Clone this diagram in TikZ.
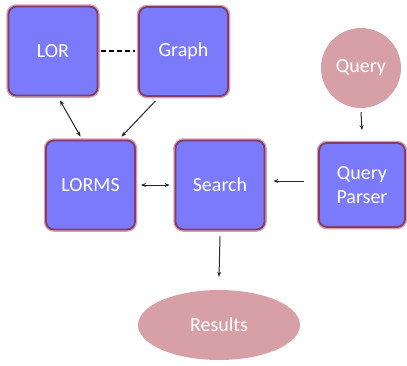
\documentclass[tikz,border=0pt]{standalone}
\usepackage{fontspec}
\setmainfont{Carlito}
\usetikzlibrary{arrows.meta,shapes.geometric}
\definecolor{boxfill}{RGB}{122,122,250}
\definecolor{boxedge}{RGB}{128,62,104}
\definecolor{glow}{RGB}{214,160,180}
\definecolor{blobfill}{RGB}{214,160,166}
\tikzset{
  box/.style={rectangle, rounded corners=8pt, fill=boxfill, draw=boxedge, line width=1.8pt,
    minimum width=89pt, minimum height=89pt, text=white, font=\fontsize{20}{24}\selectfont,
    align=center,
    preaction={draw=glow, line width=4.5pt}},
  blob/.style={ellipse, fill=blobfill, draw=none, text=white, font=\fontsize{20}{24}\selectfont, inner sep=0pt},
  conn/.style={line width=1pt, draw=black!85, -{Stealth[length=5pt,width=4pt]}},
  both/.style={conn, {Stealth[length=5pt,width=4pt]}-{Stealth[length=5pt,width=4pt]}}
}
\begin{document}
\begin{tikzpicture}[x=1pt,y=-1pt]
\useasboundingbox (0,0) rectangle (407,365);
% components
\node[box] (lor) at (53,51) {LOR};
\node[box] (graph) at (183.5,51.5) {Graph};
\node[blob, circle, minimum size=80pt] (query) at (361,68) {Query};
\node[box] (lorms) at (90.5,185) {LORMS};
\node[box] (search) at (220,185) {Search};
\node[box, minimum width=86pt, minimum height=84pt] (qp) at (362,185) {Query\\Parser};
\node[blob, minimum width=162pt, minimum height=70pt] (results) at (219,325) {Results};

% links
\draw[line width=1.1pt, dash pattern=on 5pt off 3pt] (lor.east) ++(3,0) coordinate (d1) -- ([xshift=-3pt]graph.west |- d1);
\draw[both] ([xshift=7pt,yshift=-4pt]lor.south) -- ([xshift=-10pt,yshift=3pt]lorms.north);
\draw[conn] ([xshift=-28pt,yshift=-4pt]graph.south) -- ([xshift=31pt,yshift=3pt]lorms.north);
\draw[both] ([xshift=5pt]lorms.east) -- ([xshift=-5pt]search.west);
\draw[conn] ([xshift=-14pt,yshift=4pt]qp.west) -- ([xshift=8pt,yshift=4pt]search.east);
\draw[conn] ([yshift=-4pt]query.south) -- ([yshift=12pt]qp.north);
\draw[conn] ([yshift=-6pt]search.south) -- ([yshift=13pt]results.north);
\end{tikzpicture}
\end{document}
